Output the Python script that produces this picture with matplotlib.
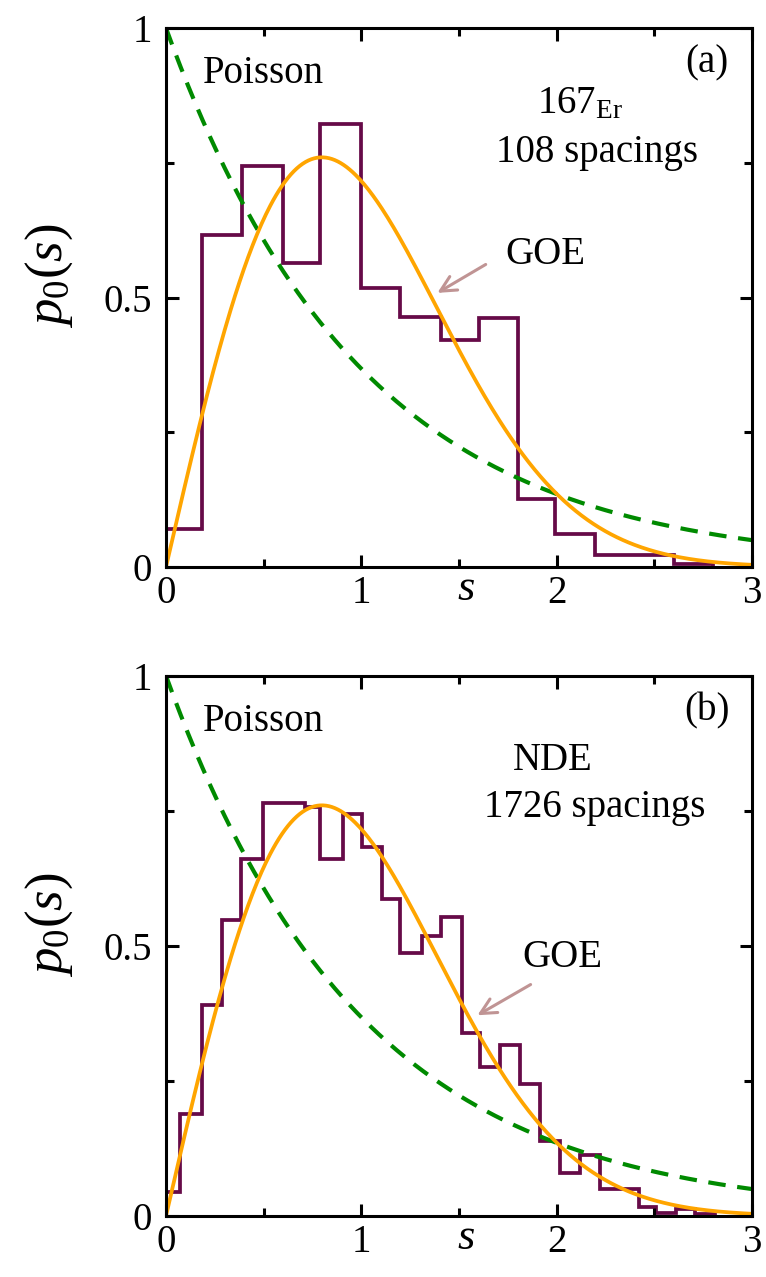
import numpy as np
import matplotlib
matplotlib.use("Agg")
import matplotlib.pyplot as plt

# histogram of nearest-neighbour spacings, panel (a): 167Er, 108 spacings
er_edges = [0.0, 0.183, 0.39, 0.597, 0.789, 0.997, 1.198, 1.408, 1.604, 1.804,
            1.99, 2.197, 2.40, 2.60, 2.80]
er_heights = [0.070, 0.616, 0.744, 0.565, 0.822, 0.517, 0.463, 0.421, 0.462,
              0.127, 0.061, 0.022, 0.022, 0.006]

# panel (b): NDE, 1726 spacings
nde_edges = [0.0, 0.072, 0.183, 0.285, 0.384, 0.498, 0.60, 0.712, 0.789, 0.905,
             1.004, 1.104, 1.20, 1.309, 1.41, 1.514, 1.608, 1.71, 1.81, 1.917,
             2.015, 2.12, 2.22, 2.32, 2.42, 2.51, 2.61, 2.71, 2.81]
nde_heights = [0.045, 0.188, 0.391, 0.548, 0.660, 0.765, 0.765, 0.758, 0.661, 0.744,
               0.683, 0.586, 0.486, 0.519, 0.554, 0.339, 0.275, 0.316, 0.244, 0.139,
               0.080, 0.112, 0.049, 0.049, 0.016, 0.006, 0.012, 0.004]

# theory curves: Poisson exp(-s) and GOE Wigner surmise
s = np.linspace(0, 3, 400)
poisson = np.exp(-s)
goe = np.pi / 2 * s * np.exp(-np.pi * s ** 2 / 4)

panels = [
    {"edges": er_edges, "heights": er_heights, "tag": "(a)",
     "name": r"$\mathrm{167}_{\mathrm{Er}}$", "count": "108 spacings",
     "name_xy": (2.12, 0.842), "count_xy": (2.207, 0.77),
     "goe_xy": (1.94, 0.579), "arrow_from": (1.649, 0.564), "arrow_to": (1.377, 0.506)},
    {"edges": nde_edges, "heights": nde_heights, "tag": "(b)",
     "name": "NDE", "count": "1726 spacings",
     "name_xy": (1.98, 0.844), "count_xy": (2.197, 0.757),
     "goe_xy": (2.03, 0.478), "arrow_from": (1.879, 0.431), "arrow_to": (1.582, 0.369)},
]

plt.rcParams["font.family"] = ["Liberation Serif", "DejaVu Serif"]
plt.rcParams["mathtext.fontset"] = "custom"
plt.rcParams["mathtext.rm"] = "Liberation Serif"
plt.rcParams["mathtext.it"] = "Liberation Serif:italic"
plt.rcParams["mathtext.default"] = "it"

FS = 28
fig = plt.figure(figsize=(7.66, 12.77), dpi=100)
axes_rects = [[0.2167, 0.556, 0.765, 0.422], [0.2167, 0.0478, 0.765, 0.423]]

for rect, p in zip(axes_rects, panels):
    ax = fig.add_axes(rect)
    ax.plot(s, poisson, color="#008a00", linewidth=3.0, dashes=(4.2, 2.8))
    ax.stairs(p["heights"], p["edges"], color="#660a48", linewidth=2.7, baseline=0)
    ax.plot(s, goe, color="#ffa500", linewidth=2.7)

    ax.set_xlim(0, 3)
    ax.set_ylim(0, 1)
    ax.set_xticks([0, 1, 2, 3])
    ax.set_xticks([0.5, 1.5, 2.5], minor=True)
    ax.set_yticks([0, 0.5, 1])
    ax.set_yticklabels(["0", "0.5", "1"])
    ax.set_yticks([0.25, 0.75], minor=True)
    ax.tick_params(which="both", direction="in", top=True, right=True, width=2.2)
    ax.tick_params(which="major", length=9, labelsize=FS)
    ax.tick_params(which="minor", length=6)
    ax.tick_params(axis="y", pad=10)
    ax.tick_params(axis="x", pad=6)
    for sp in ax.spines.values():
        sp.set_linewidth(2.2)

    ax.text(1.536, -0.04, "s", fontsize=32, fontstyle="italic",
            ha="center", va="center", clip_on=False)
    ax.set_ylabel(r"$p_0(s)$", fontsize=38)
    ax.yaxis.set_label_coords(-0.155, 0.54)

    ax.text(0.19, 0.915, "Poisson", fontsize=FS, ha="left", va="center")
    ax.text(2.77, 0.935, p["tag"], fontsize=FS, ha="center", va="center")
    ax.text(*p["name_xy"], p["name"], fontsize=FS, ha="center",
            va="baseline" if p["tag"] == "(a)" else "center")
    ax.text(*p["count_xy"], p["count"], fontsize=FS, ha="center", va="center")
    ax.text(*p["goe_xy"], "GOE", fontsize=FS, ha="center", va="center")
    ax.annotate("", xy=p["arrow_to"], xytext=p["arrow_from"],
                arrowprops=dict(arrowstyle="->", color="#c09494", lw=2.2,
                                mutation_scale=28))

fig.savefig("out.png", dpi=100)
